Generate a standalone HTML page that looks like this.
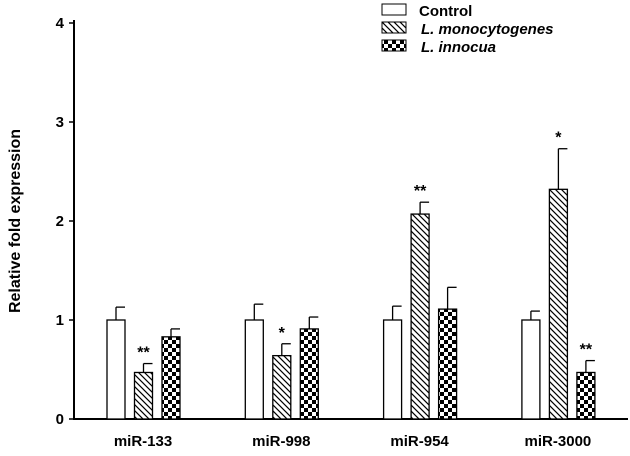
<!DOCTYPE html>
<html><head><meta charset="utf-8"><style>
body{margin:0;background:#fff;width:630px;height:451px;overflow:hidden}
svg{font-family:"Liberation Sans",Arial,sans-serif;font-weight:bold}
</style></head><body>
<svg id="c" width="630" height="451">
<defs>
<pattern id="hatch" width="6" height="6" patternUnits="userSpaceOnUse">
<rect width="6" height="6" fill="#fff"/>
<path d="M-1,-1 L7,7 M-7,-1 L1,7 M5,-1 L13,7" stroke="#000" stroke-width="1.2"/>
</pattern>
<pattern id="check" width="8" height="8" patternUnits="userSpaceOnUse">
<rect width="8" height="8" fill="#fff"/>
<rect width="4" height="4" fill="#000"/><rect x="4" y="4" width="4" height="4" fill="#000"/>
</pattern>
</defs>
</svg>
<script>
const categories=["miR-133","miR-998","miR-954","miR-3000"];
const seriesNames=["Control","L. monocytogenes","L. innocua"];
const control=[1.0,1.0,1.0,1.0];
const controlErr=[0.13,0.16,0.14,0.09];
const mono=[0.47,0.64,2.07,2.32];
const monoErr=[0.09,0.12,0.12,0.41];
const innocua=[0.83,0.91,1.11,0.47];
const innocuaErr=[0.08,0.12,0.22,0.12];
const monoSig=["**","*","**","*"];
const innocuaSig=["","","","**"];
const yTicks=[0,1,2,3,4];

const svg=document.getElementById('c');
const NS='http://www.w3.org/2000/svg';
const y0=419,yTop=23,ymax=4;
const Y=v=>y0-(v/ymax)*(y0-yTop);
const groupX=i=>107+i*138.3;
const fills=["#fff","url(#hatch)","url(#check)"];
function el(tag,attrs,parent){const e=document.createElementNS(NS,tag);for(const k in attrs)e.setAttribute(k,attrs[k]);(parent||svg).appendChild(e);return e;}

let a=el('line',{x1:74,y1:yTop-3,x2:74,y2:y0+1,stroke:'#000','stroke-width':2});


a=el('line',{x1:73,y1:y0,x2:628,y2:y0,stroke:'#000','stroke-width':2});


yTicks.forEach(t=>{
  const tk=el('line',{x1:69,y1:Y(t),x2:74,y2:Y(t),stroke:'#000','stroke-width':1.5});
  
  
  const tl=el('text',{x:64,y:Y(t)+5,'text-anchor':'end','font-size':15});
  tl.textContent=t;
  
  
});
const yt=el('text',{transform:'translate(20,221) rotate(-90)','text-anchor':'middle','font-size':16});
yt.textContent='Relative fold expression';



const series=[[control,controlErr,null],[mono,monoErr,monoSig],[innocua,innocuaErr,innocuaSig]];
categories.forEach((c,i)=>{
  const gx=groupX(i);
  series.forEach((s,j)=>{
    const x=gx+j*27.5,w=18,v=s[0][i],e=s[1][i];
    const cx=x+w/2;
    const el1=el('line',{x1:cx,y1:Y(v),x2:cx,y2:Y(v+e),stroke:'#000','stroke-width':1.3});
    
    
    const cap=el('line',{x1:cx,y1:Y(v+e),x2:cx+9,y2:Y(v+e),stroke:'#000','stroke-width':1.3});
    
    
    const r=el('rect',{x:x,y:Y(v),width:w,height:y0-Y(v),fill:fills[j],stroke:'#000','stroke-width':1.3});
    
    
    if(s[2]&&s[2][i]){
      const st=el('text',{x:cx,y:Y(v+e)-6,'text-anchor':'middle','font-size':16});
      st.textContent=s[2][i];
      
      
    }
  });
  const lb=el('text',{x:gx+36,y:446,'text-anchor':'middle','font-size':15});
  lb.textContent=c;
  
  
});
seriesNames.forEach((n,j)=>{
  const ly=4+j*18;
  const r=el('rect',{x:382,y:ly,width:24,height:11,fill:fills[j],stroke:'#000','stroke-width':1});
  
  
  const t=el('text',{x:j?421:419,y:ly+12,'font-size':15,'font-style':j?'italic':'normal'});
  t.textContent=n;
  
  
});
</script>
</body></html>
